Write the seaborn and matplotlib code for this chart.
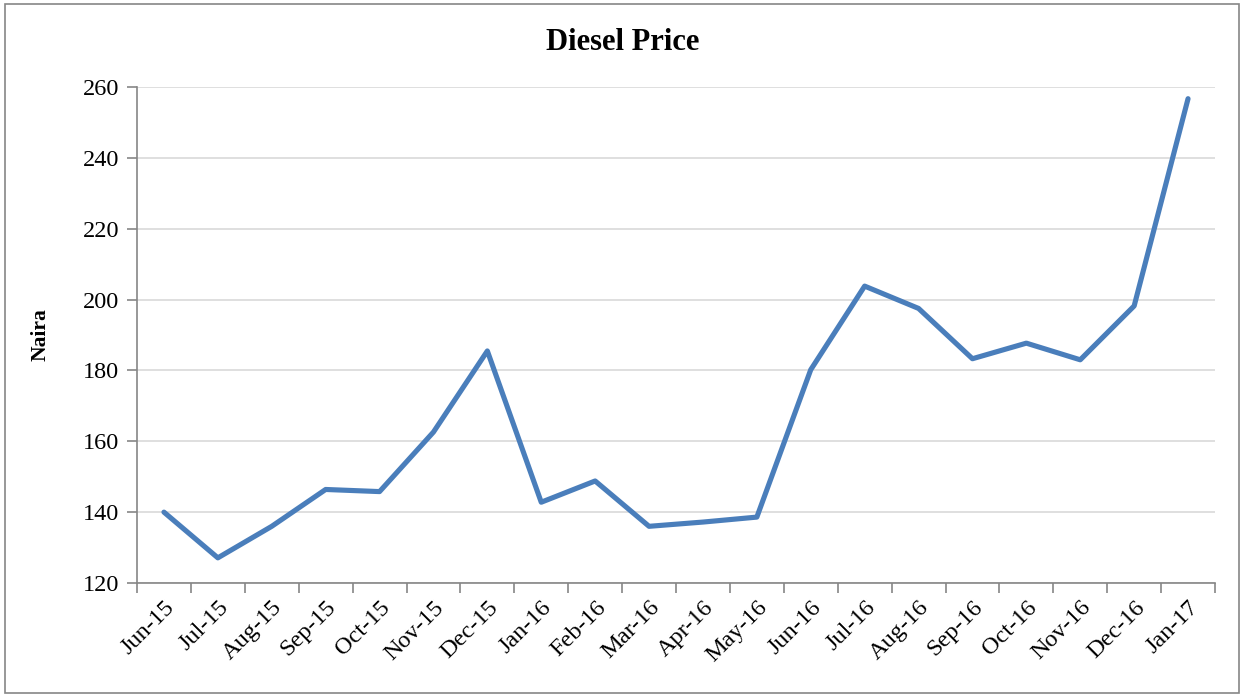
import pandas as pd
import seaborn as sns
import matplotlib.pyplot as plt
import numpy as np
from matplotlib.patches import Rectangle
from matplotlib.ticker import FixedLocator


months = ['Jun-15', 'Jul-15', 'Aug-15', 'Sep-15', 'Oct-15', 'Nov-15', 'Dec-15',
          'Jan-16', 'Feb-16', 'Mar-16', 'Apr-16', 'May-16', 'Jun-16', 'Jul-16',
          'Aug-16', 'Sep-16', 'Oct-16', 'Nov-16', 'Dec-16', 'Jan-17']
price = [140.0, 127.1, 136.0, 146.4, 145.8, 162.6, 185.5,
         142.8, 148.8, 136.0, 137.2, 138.6, 180.2, 203.8,
         197.5, 183.3, 187.7, 183.0, 198.2, 256.7]
y_ticks = [120, 140, 160, 180, 200, 220, 240, 260]

data = pd.DataFrame({'Month': months, 'Price': price})
data['pos'] = np.arange(len(months))

sns.set_style('white')
plt.rcParams['font.family'] = ['Liberation Serif', 'DejaVu Serif']
plt.rcParams['text.color'] = 'black'
plt.rcParams['xtick.labelcolor'] = 'black'
plt.rcParams['ytick.labelcolor'] = 'black'
plt.rcParams['axes.labelcolor'] = 'black'

fig = plt.figure(figsize=(12.45, 6.96), dpi=100)
ax = fig.add_axes([137 / 1245, 1 - 583 / 696, (1215 - 137) / 1245, (583 - 87) / 696])

sns.lineplot(data=data, x='pos', y='Price', ax=ax, color='#4a7ebb', linewidth=3.7)

ax.set_xlim(-0.5, len(months) - 0.5)
ax.set_ylim(120, 260)
ax.set_yticks(y_ticks)
ax.set_yticklabels([str(v) for v in y_ticks], fontsize=17.5)
ax.set_xticks(data['pos'])
ax.set_xticklabels(months, rotation=45, ha='right', rotation_mode='anchor', fontsize=17.5)
ax.xaxis.set_minor_locator(FixedLocator(np.arange(-0.5, len(months), 1.0)))
ax.tick_params(axis='x', which='major', length=0, pad=10)
ax.tick_params(axis='x', which='minor', length=7, width=1.2, color='#868686', direction='out', bottom=True)
ax.tick_params(axis='y', length=7, width=1.2, color='#868686', direction='out', left=True, pad=6)

ax.grid(axis='y', color='#d9d9d9', linewidth=1.2)
ax.set_axisbelow(True)
for side in ['top', 'right']:
    ax.spines[side].set_visible(False)
for side in ['left', 'bottom']:
    ax.spines[side].set_color('#868686')
    ax.spines[side].set_linewidth(1.2)

ax.set_xlabel('')
ax.set_ylabel('Naira', fontsize=15.5, fontweight='bold', labelpad=23)
fig.text(0.5, 1 - 42 / 696, 'Diesel Price', ha='center', va='center', fontsize=22, fontweight='bold')

fig.patches.append(Rectangle((5 / 1245, 3 / 696), 1234 / 1245, 689 / 696, transform=fig.transFigure,
                             fill=False, edgecolor='#868686', linewidth=1.2))

fig.savefig('out.png', dpi=100)
